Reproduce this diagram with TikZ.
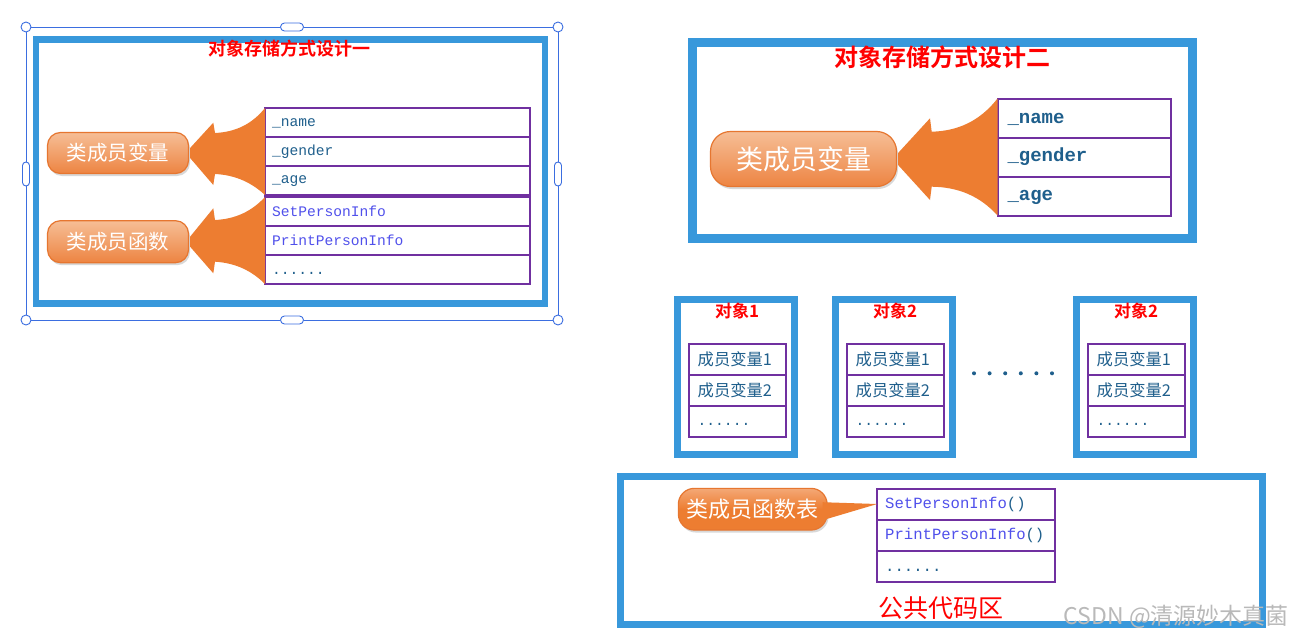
\documentclass[tikz,border=0pt]{standalone}
\usepackage{fontspec}
\usepackage{tikz}
\usetikzlibrary{positioning,calc,shadows}
\newfontfamily\cjk{Noto Sans CJK SC}[BoldFont={Noto Sans CJK SC Bold}]
\newfontfamily\monof{Liberation Mono}
\newcommand{\fsz}[1]{\fontsize{#1}{#1}\selectfont}
\definecolor{boxblue}{RGB}{56,152,219}
\definecolor{cellpurple}{RGB}{112,48,160}
\definecolor{tealtext}{RGB}{31,95,140}
\definecolor{functext}{RGB}{80,80,235}
\definecolor{funnelorange}{RGB}{237,125,49}
\definecolor{ovallight}{RGB}{246,190,150}
\definecolor{ovaldark}{RGB}{237,132,66}
\definecolor{ovalrim}{RGB}{230,118,48}
\definecolor{calloutlight}{RGB}{244,168,118}
\definecolor{selblue}{RGB}{59,110,224}

\begin{document}
\begin{tikzpicture}[x=1pt, y=-1pt,
  framebox/.style={draw=boxblue, line width=#1},
  handle/.style={draw=selblue, fill=white, line width=0.9pt, inner sep=0pt},
  bigtitle/.style={text=red, font=\cjk\bfseries\fsz{#1}, inner sep=0pt},
  oval/.style={draw=ovalrim, line width=1.2pt, rounded corners=#1, top color=ovallight, bottom color=ovaldark, text=white,
    drop shadow={opacity=0.3, shadow xshift=1.5pt, shadow yshift=-2.5pt}},
  callout/.style={draw=ovalrim, line width=1.2pt, rounded corners=16pt, top color=calloutlight, bottom color=funnelorange,
    middle color=funnelorange, text=white, drop shadow={opacity=0.3, shadow xshift=1.5pt, shadow yshift=-2.5pt}},
  cell/.style={draw=cellpurple, line width=2pt, outer sep=0pt, align=left, inner ysep=0pt, execute at begin node=\vphantom{A}},
  vcell/.style={cell, text width=251pt, inner xsep=7pt, minimum height=29pt, text=tealtext, font=\monof\fsz{14.6}},
  fcell/.style={vcell, text=functext},
  bcell/.style={cell, text width=153pt, inner xsep=10pt, minimum height=39pt, text=tealtext, font=\monof\bfseries\fsz{19}},
  ocell/.style={cell, text width=79pt, inner xsep=9pt, minimum height=31pt, text=tealtext, font=\cjk\fsz{16.3}},
  ccell/.style={cell, text width=162pt, inner xsep=8pt, minimum height=31pt, text=functext, font=\monof\fsz{15.6}},
  funnel/.style={fill=funnelorange}]
\useasboundingbox (0,0) rectangle (1292,640);
\fill[white] (0,0) rectangle (1292,640);

% selection frame
\node[handle, circle, minimum size=10pt] (hnw) at (26,27) {};
\node[handle, circle, minimum size=10pt] (hne) at (558,27) {};
\node[handle, circle, minimum size=10pt] (hse) at (558,320) {};
\node[handle, circle, minimum size=10pt] (hsw) at (26,320) {};
\node[handle, rounded corners=4pt, minimum width=23pt, minimum height=8pt] (hn) at (292,27) {};
\node[handle, rounded corners=4pt, minimum width=23pt, minimum height=8pt] (hs) at (292,320) {};
\node[handle, rounded corners=3.5pt, minimum width=7pt, minimum height=24pt] (hw) at (26,174) {};
\node[handle, rounded corners=3.5pt, minimum width=7pt, minimum height=24pt] (he) at (558,174) {};
\draw[selblue, line width=0.9pt] (hnw) -- (hn) -- (hne) -- (he) -- (hse) -- (hs) -- (hsw) -- (hw) -- (hnw);

% design one
\draw[framebox=6.5pt] (35.75,39.25) rectangle (544.75,303.25);
\node[bigtitle=18] (t1) at (289,48.5) {对象存储方式设计一};
\node[oval=13pt, minimum width=141pt, minimum height=41pt, font=\cjk\fsz{20.5}] (ov1) at (118,153) {类成员变量};
\node[oval=13pt, minimum width=141pt, minimum height=42pt, font=\cjk\fsz{20.5}] (ov2) at (118,241.7) {类成员函数};
\node[vcell] (vn) at (397.5,122.5) {\_name};
\node[vcell, below=0pt of vn] (vg) {\_gender};
\node[vcell, below=0pt of vg] (va) {\_age};
\node[fcell] (fs) at (397.5,211.5) {SetPersonInfo};
\node[fcell, below=0pt of fs] (fp) {PrintPersonInfo};
\node[fcell, below=0pt of fp, text=tealtext] (fd) {......};
\fill[funnel] ($(ov1.east)+(1,-5)$) -- (213.3,122.7) -- (215,133) .. controls (236,132) and (252,124) .. (vn.north west)
  -- (va.south west) .. controls (252,183) and (236,175) .. (215,174) -- (213.3,185) -- ($(ov1.east)+(1,5)$) -- cycle;
\fill[funnel] ($(ov2.east)+(1,-5)$) -- (213.3,208.3) -- (215,220) .. controls (236,219) and (252,211) .. (fs.north west)
  -- (fd.south west) .. controls (252,271) and (236,263) .. (215,261.7) -- (213.3,273.3) -- ($(ov2.east)+(1,5)$) -- cycle;

% design two
\draw[framebox=8.5pt] (692.7,42.5) rectangle (1192.7,238.5);
\node[bigtitle=24] (t2) at (942.7,57) {对象存储方式设计二};
\node[oval=20pt, minimum width=186pt, minimum height=55pt, font=\cjk\fsz{27}] (ov3) at (803.5,159) {类成员变量};
\node[bcell] (bn) at (1084,118) {\_name};
\node[bcell, below=0pt of bn] (bg) {\_gender};
\node[bcell, below=0pt of bg] (ba) {\_age};
\fill[funnel] ($(ov3.east)+(1,-6)$) -- (930,118.3) -- (931.7,131.7) .. controls (958,131) and (980,121) .. (bn.north west)
  -- (ba.south west) .. controls (980,196) and (958,187) .. (931.7,186.7) -- (930,200) -- ($(ov3.east)+(1,6)$) -- cycle;

% objects
\foreach \cx/\lbl/\nm in {736.2/1/oa, 894.2/2/ob, 1135.2/2/oc}{
  \draw[framebox=7pt] (\cx-58.7,299.5) rectangle (\cx+58.7,454.8);
  \node[bigtitle=17] (\nm-t) at (\cx+1,311) {对象\lbl};
  \node[ocell] (\nm-1) at (\cx+1,359) {成员变量1};
  \node[ocell, below=0pt of \nm-1] (\nm-2) {成员变量2};
  \node[ocell, below=0pt of \nm-2, font=\monof\fsz{14.6}] (\nm-3) {......};
}
\foreach \i in {0,...,5}
  \fill[tealtext] (974+15.6*\i,373.3) circle (2);

% shared code area
\draw[framebox=7pt] (620,476.2) rectangle (1262.5,624.5);
\node[ccell] (cs) at (966.2,504) {SetPersonInfo\textcolor{tealtext}{()}};
\node[ccell, below=0pt of cs] (cp) {PrintPersonInfo\textcolor{tealtext}{()}};
\node[ccell, below=0pt of cp, text=tealtext] (cd) {......};
\node[callout, minimum width=148.7pt, minimum height=41.7pt, font=\cjk\fsz{22}] (cb) at (752.7,509.2) {类成员函数表};
\fill[funnelorange] ($(cb.east)+(-5,-7)$) -- (cs.west) -- ($(cb.east)+(-5,11)$) -- cycle;
\node[text=red, font=\cjk\fsz{25}] (pub) at (941,608) {公共代码区};
\node[text=gray!55, font=\cjk\fsz{23}, anchor=east, inner sep=0pt] (wm) at (1289,617) {CSDN @清源妙木真菌};
\end{tikzpicture}
\end{document}
